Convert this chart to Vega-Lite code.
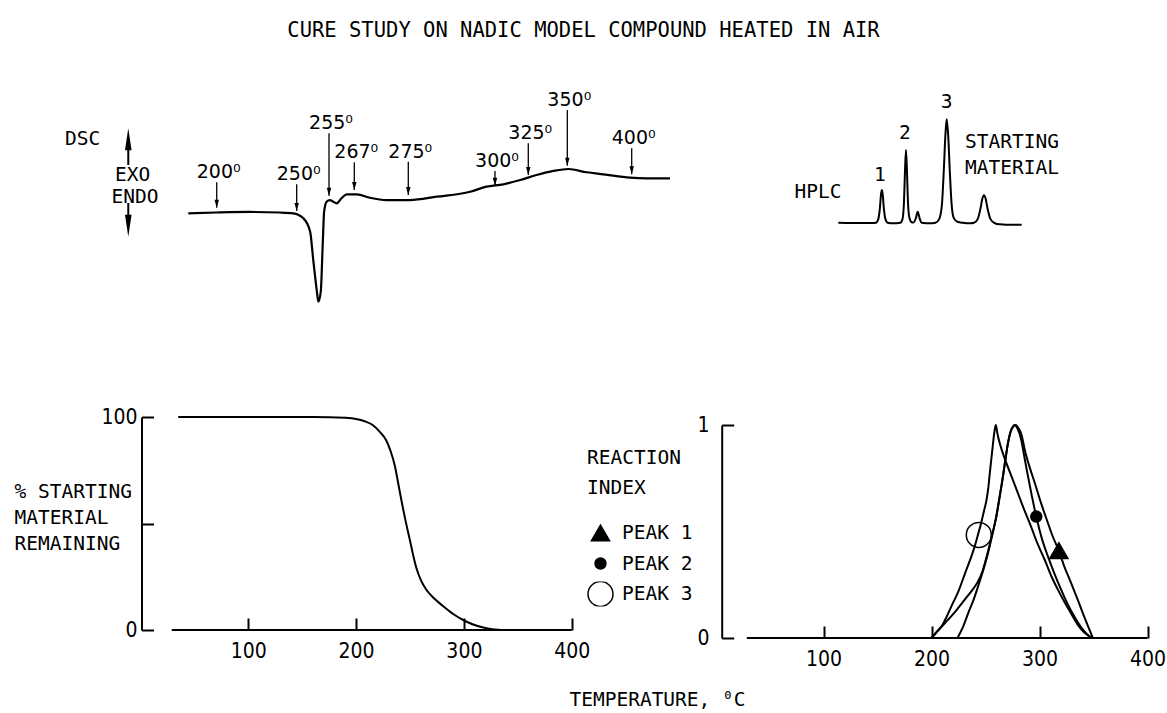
{
"$schema":"https://vega.github.io/schema/vega-lite/v6.json",
"width":1167,"height":653,
"autosize":{"type":"none"},
"padding":{"left":0,"right":0,"top":60,"bottom":0},
"background":"white",
"title":{"text":"CURE STUDY ON NADIC MODEL COMPOUND HEATED IN AIR","font":"DejaVu Sans Mono","fontSize":20.5,"fontWeight":"normal","color":"black","anchor":"middle","frame":"group","baseline":"alphabetic","offset":3},
"config":{"view":{"stroke":null},"font":"DejaVu Sans Mono"},
"datasets":{
"dsc":[{"scan":0,"heat":0},{"scan":5.9,"heat":0.9},{"scan":12.8,"heat":1.5},{"scan":19.0,"heat":0.9},{"scan":21.8,"heat":0},{"scan":23.9,"heat":-5.7},{"scan":25.3,"heat":-20.8},{"scan":25.9,"heat":-50.6},{"scan":26.7,"heat":-88.7},{"scan":27.0,"heat":-100},{"scan":27.5,"heat":-88.7},{"scan":27.9,"heat":-35.9},{"scan":28.2,"heat":1.8},{"scan":28.7,"heat":13.1},{"scan":29.4,"heat":15},{"scan":30.1,"heat":13.1},{"scan":30.8,"heat":11.3},{"scan":31.8,"heat":17},{"scan":32.9,"heat":21.5},{"scan":35.0,"heat":21.5},{"scan":37.7,"heat":17.6},{"scan":41.2,"heat":15},{"scan":46.0,"heat":15},{"scan":51.6,"heat":18.8},{"scan":58.5,"heat":24.4},{"scan":61.9,"heat":30.1},{"scan":65.4,"heat":32.8},{"scan":68.9,"heat":37.7},{"scan":72.3,"heat":43.3},{"scan":75.8,"heat":47.9},{"scan":78.9,"heat":50.1},{"scan":82.7,"heat":46.4},{"scan":86.2,"heat":44.1},{"scan":91.7,"heat":40.3},{"scan":95.2,"heat":39.6},{"scan":100,"heat":39.6}],
"arrows":[{"label":"200⁰","scan":5.9,"top":35.1,"tip":6.3},{"label":"250⁰","scan":22.5,"top":32.8,"tip":2.6},{"label":"255⁰","scan":29.21,"top":90.5,"tip":19.9},{"label":"267⁰","scan":34.46,"top":57.7,"tip":26.4},{"label":"275⁰","scan":45.67,"top":58.4,"tip":20.7},{"label":"300⁰","scan":63.67,"top":47.9,"tip":31.2},{"label":"325⁰","scan":70.58,"top":79.2,"tip":43.3},{"label":"350⁰","scan":78.68,"top":116.9,"tip":53.8},{"label":"400⁰","scan":92.05,"top":73.5,"tip":44.1}],
"hplc":[{"rt":0,"sig":0.5},{"rt":10,"sig":0.3},{"rt":18,"sig":0.2},{"rt":20.5,"sig":0.5},{"rt":21.8,"sig":4},{"rt":22.7,"sig":15},{"rt":23.3,"sig":28},{"rt":23.7,"sig":32},{"rt":24.2,"sig":28},{"rt":24.8,"sig":15},{"rt":25.7,"sig":4},{"rt":27,"sig":0.5},{"rt":30,"sig":0},{"rt":33.8,"sig":0.5},{"rt":35,"sig":4},{"rt":35.8,"sig":20},{"rt":36.4,"sig":52},{"rt":36.9,"sig":70.5},{"rt":37.4,"sig":52},{"rt":38,"sig":20},{"rt":38.8,"sig":5},{"rt":40,"sig":1},{"rt":41,"sig":0.8},{"rt":42.3,"sig":5},{"rt":43.3,"sig":11},{"rt":44.3,"sig":5},{"rt":45.5,"sig":0.5},{"rt":50,"sig":0},{"rt":53,"sig":0.5},{"rt":55,"sig":4},{"rt":56.5,"sig":18},{"rt":57.5,"sig":50},{"rt":58.4,"sig":85},{"rt":59.1,"sig":100},{"rt":59.9,"sig":85},{"rt":60.8,"sig":50},{"rt":61.8,"sig":18},{"rt":63,"sig":5},{"rt":65,"sig":1.5},{"rt":68,"sig":0.5},{"rt":72,"sig":0},{"rt":74,"sig":0.5},{"rt":76,"sig":4},{"rt":77.5,"sig":14},{"rt":78.6,"sig":24},{"rt":79.4,"sig":27},{"rt":80.3,"sig":24},{"rt":81.4,"sig":14},{"rt":83,"sig":4},{"rt":85,"sig":0.5},{"rt":88,"sig":-1},{"rt":95,"sig":-1.5},{"rt":100,"sig":-1.5}],
"remaining":[{"temp":35,"pct":100},{"temp":160,"pct":100},{"temp":190,"pct":99.6},{"temp":200,"pct":99.1},{"temp":208,"pct":98},{"temp":216,"pct":96},{"temp":222,"pct":93},{"temp":228,"pct":89},{"temp":232,"pct":84},{"temp":236,"pct":77},{"temp":239,"pct":69},{"temp":242,"pct":61},{"temp":246,"pct":51},{"temp":250,"pct":42},{"temp":253,"pct":35},{"temp":256,"pct":29},{"temp":260,"pct":23.5},{"temp":265,"pct":19},{"temp":272,"pct":15},{"temp":280,"pct":11.5},{"temp":290,"pct":7.5},{"temp":302,"pct":4},{"temp":312,"pct":2},{"temp":322,"pct":0.7},{"temp":332,"pct":0.15},{"temp":340,"pct":0}],
"reaction":[
{"peak":"PEAK 1","temp":224,"index":0},{"peak":"PEAK 1","temp":229,"index":0.05},{"peak":"PEAK 1","temp":234,"index":0.117},{"peak":"PEAK 1","temp":239,"index":0.18},{"peak":"PEAK 1","temp":243,"index":0.24},{"peak":"PEAK 1","temp":248,"index":0.32},{"peak":"PEAK 1","temp":252.4,"index":0.4},{"peak":"PEAK 1","temp":256,"index":0.48},{"peak":"PEAK 1","temp":260,"index":0.57},{"peak":"PEAK 1","temp":263,"index":0.66},{"peak":"PEAK 1","temp":266.2,"index":0.76},{"peak":"PEAK 1","temp":268.5,"index":0.84},{"peak":"PEAK 1","temp":270.8,"index":0.915},{"peak":"PEAK 1","temp":273,"index":0.965},{"peak":"PEAK 1","temp":276,"index":0.995},{"peak":"PEAK 1","temp":278,"index":1.0},{"peak":"PEAK 1","temp":280.5,"index":0.985},{"peak":"PEAK 1","temp":283,"index":0.96},{"peak":"PEAK 1","temp":287,"index":0.87},{"peak":"PEAK 1","temp":291,"index":0.8},{"peak":"PEAK 1","temp":295.5,"index":0.73},{"peak":"PEAK 1","temp":301,"index":0.64},{"peak":"PEAK 1","temp":307.8,"index":0.54},{"peak":"PEAK 1","temp":312,"index":0.48},{"peak":"PEAK 1","temp":317.9,"index":0.41},{"peak":"PEAK 1","temp":323,"index":0.335},{"peak":"PEAK 1","temp":329.3,"index":0.258},{"peak":"PEAK 1","temp":335,"index":0.185},{"peak":"PEAK 1","temp":340.1,"index":0.117},{"peak":"PEAK 1","temp":345,"index":0.055},{"peak":"PEAK 1","temp":349.4,"index":0},
{"peak":"PEAK 2","temp":200,"index":0},{"peak":"PEAK 2","temp":207,"index":0.04},{"peak":"PEAK 2","temp":215.4,"index":0.086},{"peak":"PEAK 2","temp":223,"index":0.13},{"peak":"PEAK 2","temp":230.8,"index":0.18},{"peak":"PEAK 2","temp":237,"index":0.22},{"peak":"PEAK 2","temp":243.1,"index":0.266},{"peak":"PEAK 2","temp":247,"index":0.31},{"peak":"PEAK 2","temp":252,"index":0.4},{"peak":"PEAK 2","temp":256,"index":0.48},{"peak":"PEAK 2","temp":260,"index":0.57},{"peak":"PEAK 2","temp":263,"index":0.66},{"peak":"PEAK 2","temp":266.2,"index":0.76},{"peak":"PEAK 2","temp":268.5,"index":0.84},{"peak":"PEAK 2","temp":270.8,"index":0.915},{"peak":"PEAK 2","temp":273,"index":0.965},{"peak":"PEAK 2","temp":275.5,"index":0.993},{"peak":"PEAK 2","temp":277,"index":1.0},{"peak":"PEAK 2","temp":279.5,"index":0.985},{"peak":"PEAK 2","temp":283.1,"index":0.93},{"peak":"PEAK 2","temp":286,"index":0.85},{"peak":"PEAK 2","temp":289.3,"index":0.76},{"peak":"PEAK 2","temp":293,"index":0.665},{"peak":"PEAK 2","temp":297,"index":0.57},{"peak":"PEAK 2","temp":302,"index":0.47},{"peak":"PEAK 2","temp":307.8,"index":0.383},{"peak":"PEAK 2","temp":314,"index":0.3},{"peak":"PEAK 2","temp":320,"index":0.227},{"peak":"PEAK 2","temp":326,"index":0.16},{"peak":"PEAK 2","temp":332.4,"index":0.1},{"peak":"PEAK 2","temp":340,"index":0.04},{"peak":"PEAK 2","temp":347.7,"index":0},
{"peak":"PEAK 3","temp":200,"index":0},{"peak":"PEAK 3","temp":205,"index":0.03},{"peak":"PEAK 3","temp":210,"index":0.06},{"peak":"PEAK 3","temp":214,"index":0.1},{"peak":"PEAK 3","temp":218.5,"index":0.15},{"peak":"PEAK 3","temp":225,"index":0.22},{"peak":"PEAK 3","temp":230.8,"index":0.3},{"peak":"PEAK 3","temp":236,"index":0.37},{"peak":"PEAK 3","temp":240,"index":0.43},{"peak":"PEAK 3","temp":243,"index":0.485},{"peak":"PEAK 3","temp":246,"index":0.54},{"peak":"PEAK 3","temp":248.5,"index":0.595},{"peak":"PEAK 3","temp":251,"index":0.65},{"peak":"PEAK 3","temp":252.7,"index":0.71},{"peak":"PEAK 3","temp":254,"index":0.775},{"peak":"PEAK 3","temp":255.5,"index":0.845},{"peak":"PEAK 3","temp":257,"index":0.915},{"peak":"PEAK 3","temp":258,"index":0.96},{"peak":"PEAK 3","temp":259,"index":0.99},{"peak":"PEAK 3","temp":259.6,"index":1.0},{"peak":"PEAK 3","temp":261,"index":0.96},{"peak":"PEAK 3","temp":264,"index":0.9},{"peak":"PEAK 3","temp":268,"index":0.84},{"peak":"PEAK 3","temp":274,"index":0.76},{"peak":"PEAK 3","temp":280,"index":0.68},{"peak":"PEAK 3","temp":286,"index":0.6},{"peak":"PEAK 3","temp":292,"index":0.525},{"peak":"PEAK 3","temp":298,"index":0.445},{"peak":"PEAK 3","temp":305,"index":0.365},{"peak":"PEAK 3","temp":311,"index":0.29},{"peak":"PEAK 3","temp":317,"index":0.227},{"peak":"PEAK 3","temp":323,"index":0.17},{"peak":"PEAK 3","temp":329,"index":0.117},{"peak":"PEAK 3","temp":335,"index":0.065},{"peak":"PEAK 3","temp":342,"index":0.023},{"peak":"PEAK 3","temp":349,"index":0}],
"markers":[{"peak":"PEAK 1","temp":317.9,"index":0.41},{"peak":"PEAK 2","temp":297,"index":0.57},{"peak":"PEAK 3","temp":243.8,"index":0.484}]
},
"resolve":{"scale":{"x":"independent","y":"independent"},"axis":{"x":"independent","y":"independent"}},
"layer":[
{"data":{"name":"dsc"},
 "mark":{"type":"line","color":"black","strokeWidth":2.2,"interpolate":"monotone"},
 "encoding":{
  "x":{"field":"scan","type":"quantitative","scale":{"domain":[0,100],"range":[188.3,670]},"axis":null},
  "y":{"field":"heat","type":"quantitative","scale":{"domain":[-100,50],"range":[241.7,109.1]},"axis":null}}},
{"data":{"name":"arrows"},
 "mark":{"type":"rule","color":"black","strokeWidth":1.3},
 "encoding":{"x":{"field":"scan","type":"quantitative","scale":{"domain":[0,100],"range":[188.3,670]},"axis":null},"y":{"field":"top","type":"quantitative","scale":{"domain":[-100,50],"range":[241.7,109.1]},"axis":null},"y2":{"field":"tip"}}},
{"data":{"name":"arrows"},
 "mark":{"type":"point","shape":"M0,0L0.56,-2L-0.56,-2Z","size":64,"filled":true,"color":"black","opacity":1},
 "encoding":{"x":{"field":"scan","type":"quantitative","scale":{"domain":[0,100],"range":[188.3,670]},"axis":null},"y":{"field":"tip","type":"quantitative","scale":{"domain":[-100,50],"range":[241.7,109.1]},"axis":null}}},
{"data":{"name":"arrows"},
 "mark":{"type":"text","font":"DejaVu Sans","fontSize":19,"align":"center","baseline":"alphabetic","dx":2,"dy":-4,"color":"black"},
 "encoding":{"x":{"field":"scan","type":"quantitative","scale":{"domain":[0,100],"range":[188.3,670]},"axis":null},"y":{"field":"top","type":"quantitative","scale":{"domain":[-100,50],"range":[241.7,109.1]},"axis":null},"text":{"field":"label"}}},
{"data":{"values":[{"text":"DSC","scan":-21.96,"heat":84.6},{"text":"EXO","scan":-11.58,"heat":43.3},{"text":"ENDO","scan":-11.07,"heat":18.1}]},
 "mark":{"type":"text","font":"DejaVu Sans Mono","fontSize":19.5,"align":"center","baseline":"middle","color":"black"},
 "encoding":{"x":{"field":"scan","type":"quantitative","scale":{"domain":[0,100],"range":[188.3,670]},"axis":null},"y":{"field":"heat","type":"quantitative","scale":{"domain":[-100,50],"range":[241.7,109.1]},"axis":null},"text":{"field":"text"}}},
{"data":{"values":[{"scan":-12.46,"from":83.7,"to":54.6},{"scan":-12.46,"from":11.7,"to":-14.0}]},
 "mark":{"type":"rule","color":"black","strokeWidth":2},
 "encoding":{"x":{"field":"scan","type":"quantitative","scale":{"domain":[0,100],"range":[188.3,670]},"axis":null},"y":{"field":"from","type":"quantitative","scale":{"domain":[-100,50],"range":[241.7,109.1]},"axis":null},"y2":{"field":"to"}}},
{"data":{"values":[{"scan":-12.46,"heat":96.2}]},
 "mark":{"type":"point","shape":"M0,0L0.3,2L-0.3,2Z","size":484,"filled":true,"color":"black","opacity":1},
 "encoding":{"x":{"field":"scan","type":"quantitative","scale":{"domain":[0,100],"range":[188.3,670]},"axis":null},"y":{"field":"heat","type":"quantitative","scale":{"domain":[-100,50],"range":[241.7,109.1]},"axis":null}}},
{"data":{"values":[{"scan":-12.46,"heat":-26.5}]},
 "mark":{"type":"point","shape":"M0,0L0.3,-2L-0.3,-2Z","size":484,"filled":true,"color":"black","opacity":1},
 "encoding":{"x":{"field":"scan","type":"quantitative","scale":{"domain":[0,100],"range":[188.3,670]},"axis":null},"y":{"field":"heat","type":"quantitative","scale":{"domain":[-100,50],"range":[241.7,109.1]},"axis":null}}},
{"data":{"name":"hplc"},
 "mark":{"type":"line","color":"black","strokeWidth":2,"interpolate":"monotone"},
 "encoding":{
  "x":{"field":"rt","type":"quantitative","scale":{"domain":[0,100],"range":[838.3,1021.7]},"axis":null},
  "y":{"field":"sig","type":"quantitative","scale":{"domain":[0,100],"range":[163.3,59.3]},"axis":null}}},
{"data":{"values":[{"text":"1","rt":22.7,"sig":46.4},{"text":"2","rt":36.3,"sig":86.8},{"text":"3","rt":59.1,"sig":116.9},{"text":"HPLC","rt":-11.1,"sig":30.5}]},
 "mark":{"type":"text","font":"DejaVu Sans Mono","fontSize":19.5,"align":"center","baseline":"middle","color":"black"},
 "encoding":{"x":{"field":"rt","type":"quantitative","scale":{"domain":[0,100],"range":[838.3,1021.7]},"axis":null},"y":{"field":"sig","type":"quantitative","scale":{"domain":[0,100],"range":[163.3,59.3]},"axis":null},"text":{"field":"text"}}},
{"data":{"values":[{"text":"STARTING","rt":69.1,"sig":78.5},{"text":"MATERIAL","rt":69.1,"sig":52.9}]},
 "mark":{"type":"text","font":"DejaVu Sans Mono","fontSize":19.5,"align":"left","baseline":"middle","color":"black"},
 "encoding":{"x":{"field":"rt","type":"quantitative","scale":{"domain":[0,100],"range":[838.3,1021.7]},"axis":null},"y":{"field":"sig","type":"quantitative","scale":{"domain":[0,100],"range":[163.3,59.3]},"axis":null},"text":{"field":"text"}}},
{"data":{"name":"remaining"},
 "mark":{"type":"line","color":"black","strokeWidth":2,"interpolate":"monotone"},
 "encoding":{
  "x":{"field":"temp","type":"quantitative","scale":{"domain":[0,400],"range":[140.5,571.7]},
   "axis":{"orient":"bottom","offset":-83,"values":[100,200,300,400],"domain":false,"grid":false,"ticks":true,"tickSize":-12,"tickWidth":2,"tickColor":"black","labelFont":"Liberation Sans Narrow, DejaVu Sans Condensed, sans-serif","labelFontSize":21,"labelColor":"black","labelPadding":22,"labelFlush":false,"labelOverlap":false,"title":null}},
  "y":{"field":"pct","type":"quantitative","scale":{"domain":[0,100],"range":[570,357]},
   "axis":{"orient":"left","offset":-141.5,"values":[0,50,100],"labelExpr":"datum.value == 50 ? '' : datum.label","domain":true,"domainColor":"black","domainWidth":2,"grid":false,"ticks":true,"tickSize":-12,"tickWidth":2,"tickColor":"black","labelFont":"Liberation Sans Narrow, DejaVu Sans Condensed, sans-serif","labelFontSize":21,"labelColor":"black","labelPadding":16.5,"labelFlush":false,"labelOverlap":false,
    "title":["% STARTING","MATERIAL","REMAINING"],"titleFont":"DejaVu Sans Mono","titleFontSize":19.5,"titleFontWeight":"normal","titleColor":"black","titleAngle":0,"titleAlign":"left","titleBaseline":"alphabetic","titleX":-127.5,"titleY":437,"titleLineHeight":26}}}},
{"data":{"values":[{}]},
 "mark":{"type":"rule","color":"black","strokeWidth":2},
 "encoding":{"x":{"datum":29,"type":"quantitative","scale":{"domain":[0,400],"range":[140.5,571.7]},"axis":null},"x2":{"datum":400},"y":{"datum":0,"type":"quantitative","scale":{"domain":[0,100],"range":[570,357]},"axis":null}}},
{"data":{"name":"reaction"},
 "mark":{"type":"line","color":"black","strokeWidth":2,"interpolate":"monotone"},
 "encoding":{
  "x":{"field":"temp","type":"quantitative","scale":{"domain":[0,400],"range":[715.5,1147.5]},
   "axis":{"orient":"bottom","offset":-75,"values":[100,200,300,400],"domain":false,"grid":false,"ticks":true,"tickSize":-12,"tickWidth":2,"tickColor":"black","labelFont":"Liberation Sans Narrow, DejaVu Sans Condensed, sans-serif","labelFontSize":21,"labelColor":"black","labelPadding":22,"labelFlush":false,"labelOverlap":false,
    "title":"TEMPERATURE, ⁰C","titleFont":"DejaVu Sans Mono","titleFontSize":19.5,"titleFontWeight":"normal","titleColor":"black","titleAngle":0,"titleAlign":"center","titleBaseline":"middle","titleX":657,"titleY":61}},
  "y":{"field":"index","type":"quantitative","scale":{"domain":[0,1],"range":[578,365]},
   "axis":{"orient":"left","offset":-721.7,"values":[0,0.5,1],"format":"d","labelExpr":"datum.value == 0.5 ? '' : datum.label","domain":true,"domainColor":"black","domainWidth":2,"grid":false,"ticks":true,"tickSize":-12,"tickWidth":2,"tickColor":"black","labelFont":"Liberation Sans Narrow, DejaVu Sans Condensed, sans-serif","labelFontSize":21,"labelColor":"black","labelPadding":24.7,"labelFlush":false,"labelOverlap":false,"title":null}},
  "detail":{"field":"peak","type":"nominal"}}},
{"data":{"values":[{}]},
 "mark":{"type":"rule","color":"black","strokeWidth":2},
 "encoding":{"x":{"datum":29,"type":"quantitative","scale":{"domain":[0,400],"range":[715.5,1147.5]},"axis":null},"x2":{"datum":400},"y":{"datum":0,"type":"quantitative","scale":{"domain":[0,1],"range":[578,365]},"axis":null}}},
{"data":{"name":"markers"},
 "mark":{"type":"point","strokeWidth":1.5,"opacity":1},
 "encoding":{
  "x":{"field":"temp","type":"quantitative","scale":{"domain":[0,400],"range":[715.5,1147.5]},"axis":null},
  "y":{"field":"index","type":"quantitative","scale":{"domain":[0,1],"range":[578,365]},"axis":null},
  "shape":{"field":"peak","type":"nominal","scale":{"domain":["PEAK 1","PEAK 2","PEAK 3"],"range":["triangle-up","circle","circle"]},
   "legend":{"orient":"none","legendX":587,"legendY":389,"title":["REACTION","INDEX"],"titleFont":"DejaVu Sans Mono","titleFontSize":19.5,"titleFontWeight":"normal","titleColor":"black","titleLineHeight":30,"titlePadding":22,"titleAnchor":"start","labelFont":"DejaVu Sans Mono","labelFontSize":19.5,"labelColor":"black","labelOffset":8,"symbolStrokeColor":"black","symbolStrokeWidth":1.5,"clipHeight":25,"rowPadding":5.5,"padding":0}},
  "size":{"field":"peak","type":"nominal","scale":{"type":"ordinal","domain":["PEAK 1","PEAK 2","PEAK 3"],"range":[330,120,625]},
   "legend":{"orient":"none","legendX":587,"legendY":389,"title":["REACTION","INDEX"],"titleFont":"DejaVu Sans Mono","titleFontSize":19.5,"titleFontWeight":"normal","titleColor":"black","titleLineHeight":30,"titlePadding":22,"titleAnchor":"start","labelFont":"DejaVu Sans Mono","labelFontSize":19.5,"labelColor":"black","labelOffset":8,"symbolStrokeColor":"black","symbolStrokeWidth":1.5,"clipHeight":25,"rowPadding":5.5,"padding":0}},
  "fill":{"field":"peak","type":"nominal","scale":{"domain":["PEAK 1","PEAK 2","PEAK 3"],"range":["black","black","transparent"]},
   "legend":{"orient":"none","legendX":587,"legendY":389,"title":["REACTION","INDEX"],"titleFont":"DejaVu Sans Mono","titleFontSize":19.5,"titleFontWeight":"normal","titleColor":"black","titleLineHeight":30,"titlePadding":22,"titleAnchor":"start","labelFont":"DejaVu Sans Mono","labelFontSize":19.5,"labelColor":"black","labelOffset":8,"symbolStrokeColor":"black","symbolStrokeWidth":1.5,"clipHeight":25,"rowPadding":5.5,"padding":0}},
  "stroke":{"field":"peak","type":"nominal","scale":{"domain":["PEAK 1","PEAK 2","PEAK 3"],"range":["black","black","black"]},
   "legend":{"orient":"none","legendX":587,"legendY":389,"title":["REACTION","INDEX"],"titleFont":"DejaVu Sans Mono","titleFontSize":19.5,"titleFontWeight":"normal","titleColor":"black","titleLineHeight":30,"titlePadding":22,"titleAnchor":"start","labelFont":"DejaVu Sans Mono","labelFontSize":19.5,"labelColor":"black","labelOffset":8,"symbolStrokeColor":"black","symbolStrokeWidth":1.5,"clipHeight":25,"rowPadding":5.5,"padding":0}}}}
]
}
